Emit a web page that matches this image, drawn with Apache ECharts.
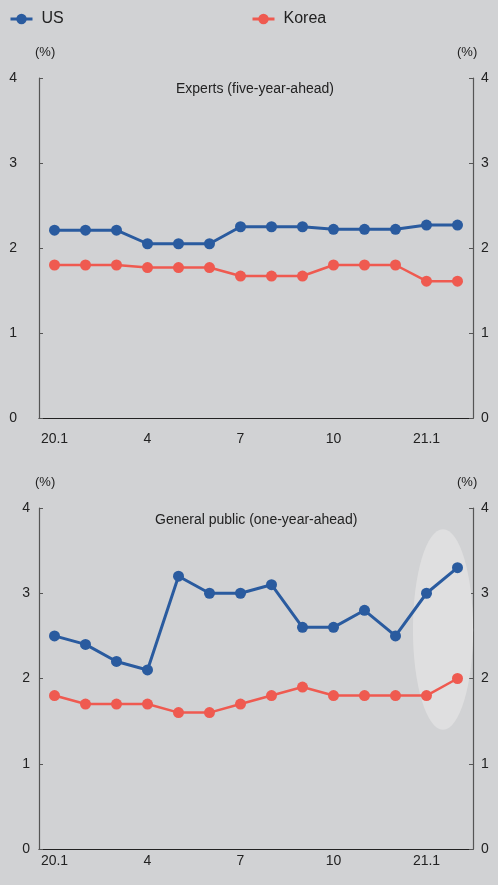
<!DOCTYPE html>
<html>
<head>
<meta charset="utf-8">
<script src="https://cdn.jsdelivr.net/npm/echarts@6/dist/echarts.min.js"></script>
<style>
html,body{margin:0;padding:0;background:#d1d2d4;}
#chart{width:498px;height:885px;}
</style>
</head>
<body>
<div id="chart"></div>
<script>
const months = ['20.1','20.2','20.3','20.4','20.5','20.6','20.7','20.8','20.9','20.10','20.11','20.12','21.1','21.2'];
const expertsUS    = [2.21,2.21,2.21,2.05,2.05,2.05,2.25,2.25,2.25,2.22,2.22,2.22,2.27,2.27];
const expertsKorea = [1.80,1.80,1.80,1.77,1.77,1.77,1.67,1.67,1.67,1.80,1.80,1.80,1.61,1.61];
const publicUS     = [2.5,2.4,2.2,2.1,3.2,3.0,3.0,3.1,2.6,2.6,2.8,2.5,3.0,3.3];
const publicKorea  = [1.8,1.7,1.7,1.7,1.6,1.6,1.7,1.8,1.9,1.8,1.8,1.8,1.8,2.0];
const yTicks = [0,1,2,3,4];
const titles = ['Experts (five-year-ahead)','General public (one-year-ahead)'];
const highlightMonths = [12,13];      // indices of highlighted months (bottom panel)
const highlightRange = [1.4,3.75];    // value span of the highlight ellipse

const BLUE = '#2a5b9f', RED = '#ef5a50';
const FONT = "'Liberation Sans', Arial, sans-serif";
const chart = echarts.init(document.getElementById('chart'));

function xAxis(gi, margin){
  return {
    type:'category', gridIndex:gi, data:months, boundaryGap:true,
    axisLine:{lineStyle:{color:'#222',width:1.2}},
    axisTick:{inside:true,length:4,interval:0,lineStyle:{color:'#333'}},
    axisLabel:{interval:2,margin:margin,color:'#222',fontSize:14,fontFamily:FONT,
      formatter:v=>v.endsWith('.1')&&!v.endsWith('.11')?v:v.split('.')[1]},
    splitLine:{show:false}
  };
}
function yAxis(gi, pos, margin){
  return {
    type:'value', gridIndex:gi, position:pos, min:0, max:4, interval:1,
    axisLine:{show:true,lineStyle:{color:'#555',width:1.2}},
    axisTick:{show:true,inside:true,length:4,lineStyle:{color:'#555'}},
    axisLabel:{margin:margin,color:'#222',fontSize:14,fontFamily:FONT,
      formatter:v=>yTicks.includes(v)?String(v):''},
    splitLine:{show:false}
  };
}
function line(name, data, xi, yi, w){
  return {
    name, type:'line', data, xAxisIndex:xi, yAxisIndex:yi,
    symbol:'circle', symbolSize:11, z:3,
    lineStyle:{color:name==='US'?BLUE:RED,width:w},
    itemStyle:{color:name==='US'?BLUE:RED},
    emphasis:{disabled:true}, animation:false
  };
}

const pctText = (x,y)=>({type:'text',left:x,top:y,style:{text:'(%)',fill:'#222',font:'13px '+FONT}});
const legendStyle = {itemWidth:22,itemHeight:13,itemGap:0,lineStyle:{width:3},
  textStyle:{fontSize:16,color:'#222',fontFamily:FONT,padding:[0,0,0,4]}};

chart.setOption({
  backgroundColor:'#d1d2d4',
  animation:false,
  legend:[
    Object.assign({data:['US'],left:4,top:6},legendStyle),
    Object.assign({data:['Korea'],left:246,top:6},legendStyle)
  ],
  title:[
    {text:titles[0],left:176,top:82,padding:0,textStyle:{fontSize:14,fontWeight:'normal',color:'#222',fontFamily:FONT}},
    {text:titles[1],left:155,top:513,padding:0,textStyle:{fontSize:14,fontWeight:'normal',color:'#222',fontFamily:FONT}}
  ],
  grid:[
    {left:39,right:25,top:78,height:340},
    {left:39,right:25,top:508,height:341}
  ],
  xAxis:[xAxis(0,14), xAxis(1,5)],
  yAxis:[yAxis(0,'left',22), yAxis(0,'right',8), yAxis(1,'left',9), yAxis(1,'right',8)],
  series:[
    line('US',expertsUS,0,0,3),
    line('Korea',expertsKorea,0,0,2.5),
    line('US',publicUS,1,2,3),
    line('Korea',publicKorea,1,2,2.5)
  ],
  graphic:[pctText(35,46),pctText(457,46),pctText(35,476),pctText(457,476)]
});

// highlight ellipse in bottom panel, positioned through the chart's own scales
const pa = chart.convertToPixel({xAxisIndex:1,yAxisIndex:2},[highlightMonths[0],highlightRange[0]]);
const pb = chart.convertToPixel({xAxisIndex:1,yAxisIndex:2},[highlightMonths[1],highlightRange[1]]);
const cx = (pa[0]+pb[0])/2 + 1, cy = (pa[1]+pb[1])/2;
const rx = (pb[0]-pa[0])*0.97, ry = Math.abs(pa[1]-pb[1])/2;
chart.setOption({graphic:[pctText(35,46),pctText(457,46),pctText(35,476),pctText(457,476),
  {type:'ellipse',shape:{cx:cx,cy:cy,rx:rx,ry:ry},style:{fill:'#dfdfe0'},z:1,silent:true}]});
</script>
</body>
</html>
